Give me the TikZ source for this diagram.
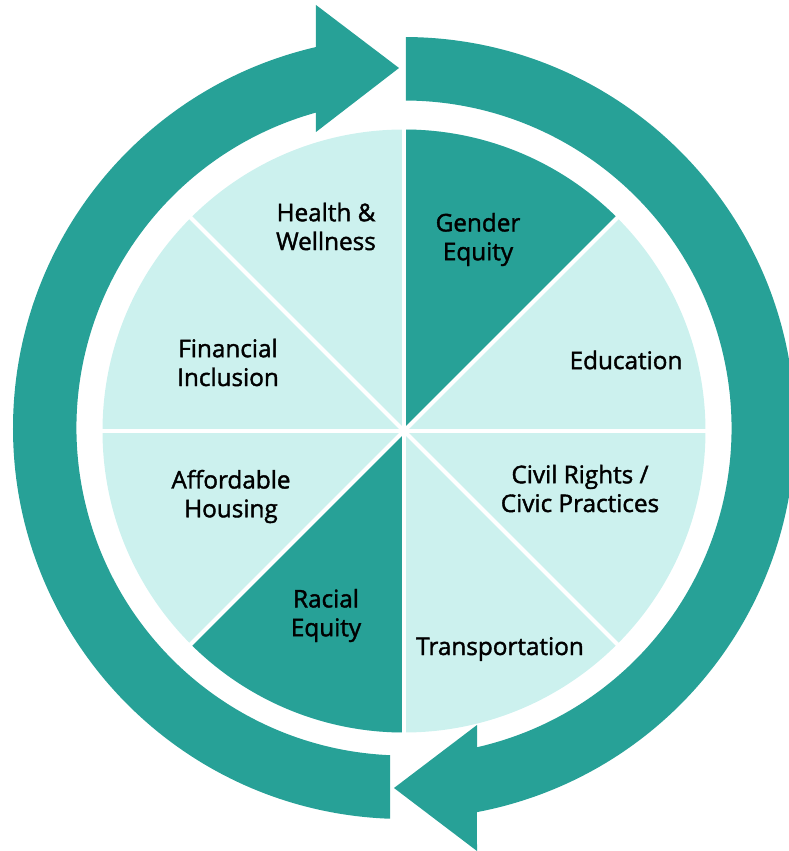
\documentclass[tikz,border=0pt]{standalone}
\usepackage{fontspec}
\newfontfamily\lblfont{Open Sans}[FakeBold=1.6]
\definecolor{teal1}{RGB}{39,161,151}
\definecolor{mint}{RGB}{204,241,238}
\begin{document}
\begin{tikzpicture}[x=1pt,y=1pt,
  lbl/.style={font=\lblfont\fontsize{24.3}{28.8}\selectfont, align=center, text=black, inner sep=0pt},
  ringarrow/.style={fill=teal1, draw=none}]
\useasboundingbox (-404,-420) rectangle (384,431);
% pie
\fill[mint] (0,0) circle[radius=301.5pt];
\fill[teal1] (0,0) -- (45:301.5pt) arc[start angle=45,end angle=90,radius=301.5pt] -- cycle;
\fill[teal1] (0,0) -- (225:301.5pt) arc[start angle=225,end angle=270,radius=301.5pt] -- cycle;
\foreach \a in {0,45,90,135} \draw[white,line width=4pt] (\a:303pt) -- (\a+180:303pt);
% ring arrows
\begin{scope}[shift={(0,3)}]
\path[ringarrow] (267.95:391pt) arc[start angle=267.95, end angle=103.01, radius=391pt]
  -- (-88,423) -- (-5,360) -- (-88,296) -- (105.59:327.5pt)
  arc[start angle=105.59, end angle=267.55, radius=327.5pt] -- cycle;
\path[ringarrow] (89.71:391pt) arc[start angle=89.71, end angle=-79.24, radius=391pt]
  -- (73,-423) -- (-10,-360) -- (73,-297) -- (-77.12:327.5pt)
  arc[start angle=-77.12, end angle=89.65, radius=327.5pt] -- cycle;
\end{scope}
% labels
\node[lbl] (health) at (-78,204.5) {Health \&\\Wellness};
\node[lbl] (gender) at (74,191.5) {Gender\\Equity};
\node[lbl] (edu) at (222,71) {Education};
\node[lbl] (civil) at (176,-57.5) {Civil Rights /\\Civic Practices};
\node[lbl] (transp) at (96,-218) {Transportation};
\node[lbl] (racial) at (-78,-184.5) {Racial\\Equity};
\node[lbl] (afford) at (-173,-65.5) {Affordable\\Housing};
\node[lbl] (fin) at (-176,68.5) {Financial\\Inclusion};
\end{tikzpicture}
\end{document}
